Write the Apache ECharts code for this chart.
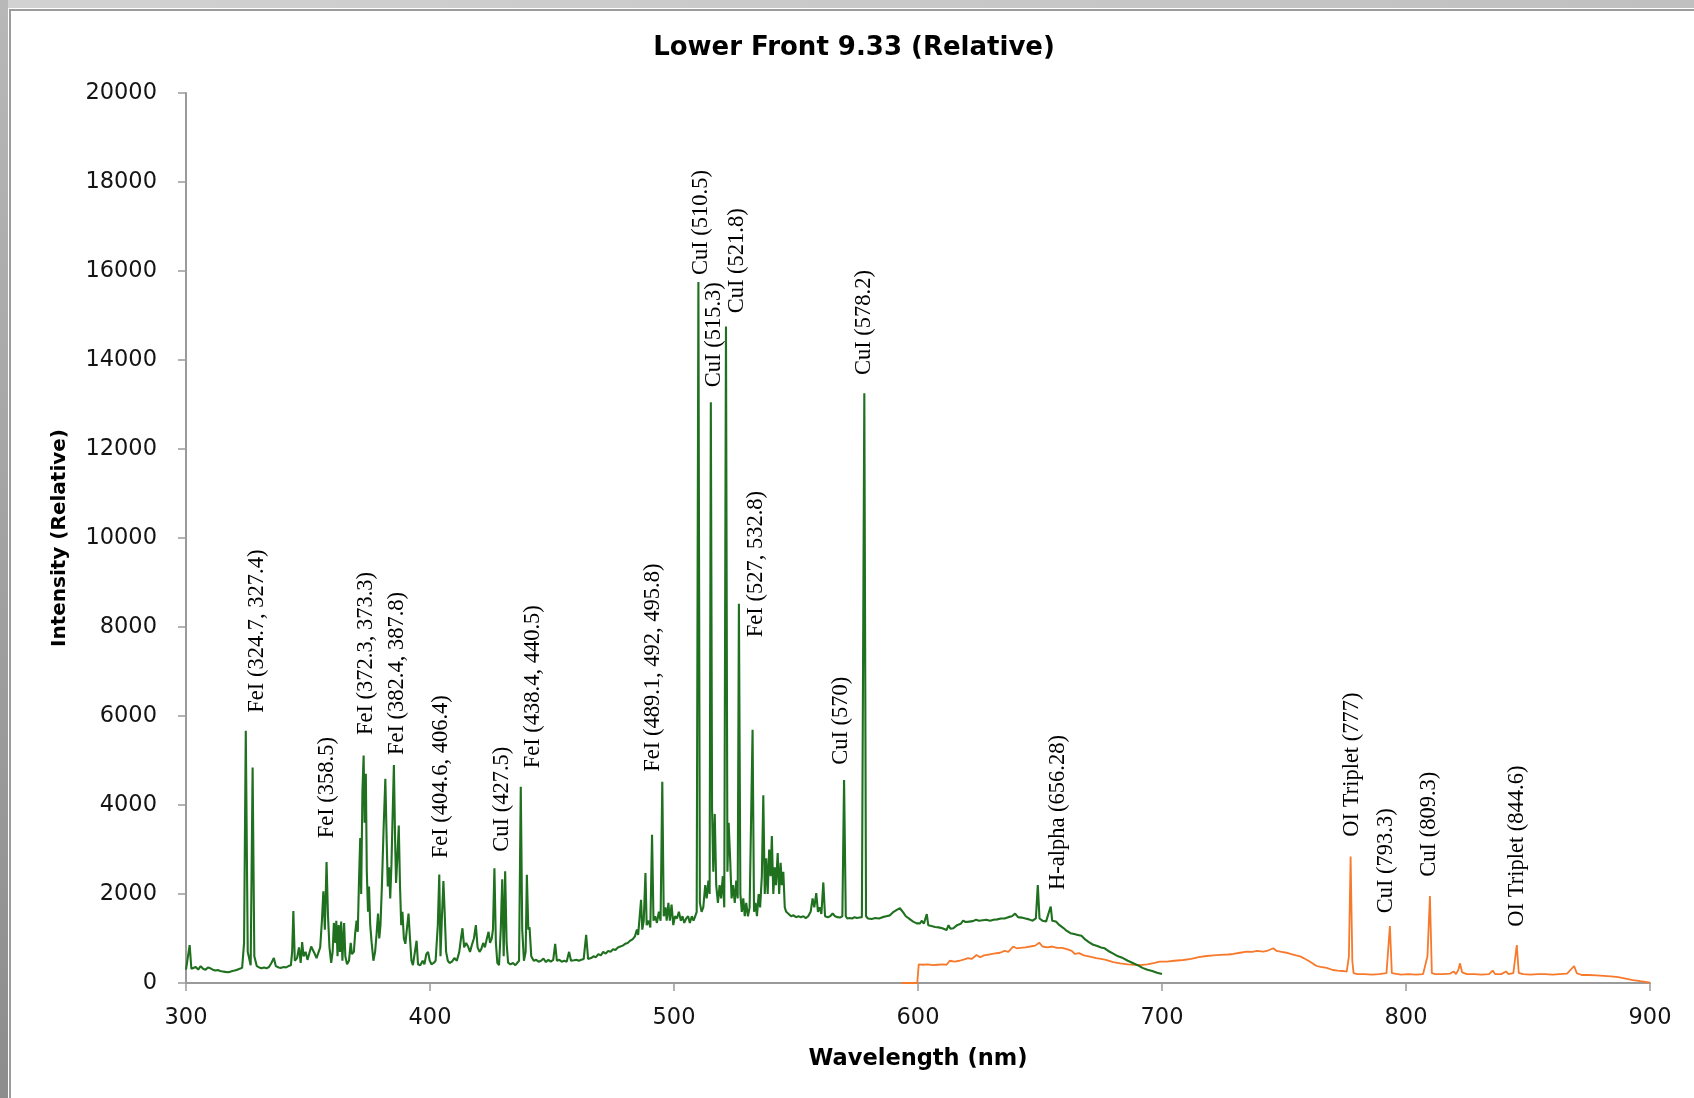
<!DOCTYPE html>
<html>
<head>
<meta charset="utf-8">
<script src="https://cdn.jsdelivr.net/npm/echarts@6/dist/echarts.min.js"></script>
<style>
html,body{margin:0;padding:0;background:#fff;}
#chart{width:1694px;height:1098px;}
</style>
</head>
<body>
<div id="chart"></div>
<script>
// ---------- DATA ----------
const xTicks = [300, 400, 500, 600, 700, 800, 900];
const yTicks = [0, 2000, 4000, 6000, 8000, 10000, 12000, 14000, 16000, 18000, 20000];

// Green spectrum (300 - 700 nm)
const greenWl = [
300,300.8,301.5,302.2,303,304,305,306,307,308,309,310,311,312,313,314,315,316,317,318,319,320,321,322,323,323.8,324.5,325.3,326.5,327.3,328,329,330,331,332,333,334,335,336,336.8,338,339,340,341,342,343,343.5,344,344.6,345.5,346.3,347,347.6,348.2,349,349.8,350.5,351.3,352,352.8,353.5,354.3,355,355.7,356.3,356.9,357.6,358.2,358.8,359.5,360.1,360.6,361.2,361.6,362.1,362.6,363.1,363.6,364.1,364.8,365.3,366,366.8,367.5,368,368.8,369.3,369.9,370.4,370.9,371.4,371.8,372.3,372.8,373.2,373.7,374.1,374.6,375,375.5,376.1,376.8,377.5,378.1,378.7,379.2,379.7,380.3,381,381.7,382.2,382.7,383.2,383.7,384.2,384.7,385.2,385.7,386.1,386.6,387.2,387.7,388.2,388.7,389.3,389.9,390.5,391.2,391.8,392.4,393,393.8,394.5,395.1,396,397,397.7,398.5,399.2,399.9,400.6,401.5,402.3,403.2,403.8,404.3,404.9,405.5,406,406.6,407.3,408,409,410,411,412,412.7,413.3,414,414.8,415.6,416.4,417.3,418,418.8,419.5,420.3,421,421.8,422.5,423.3,424,424.6,425.3,425.8,426.4,427,427.6,428.3,429,429.6,430.2,430.8,431.4,432,433,434,435,435.8,436.5,437.2,437.8,438.5,439.2,439.7,440.3,440.8,441.5,442.5,443.5,444.5,445.5,446.5,447.5,448.5,449.5,450.5,451.3,452,453,454,455,456,457,457.8,459,460,461,462,463,464,464.8,466,467,468,469,470,471,472,473,474,475,476,477,478,479,480,481,482,483,484,484.8,485.3,485.8,486.5,487,487.6,488.3,488.8,489.6,490.3,491,491.6,492.3,493,493.8,494.5,495.2,495.8,496.5,497,497.7,498.3,499,499.7,500.4,501.2,502,502.8,503.5,504.2,505,505.8,506.5,507.3,508,508.7,509.3,510,510.6,511.3,512,512.8,513.4,514.1,514.6,515.1,515.6,516.1,516.7,517.3,518,518.7,519.3,520,520.6,521.3,521.9,522.4,523,523.6,524.2,524.9,525.5,526.1,526.6,527.2,527.8,528.4,529,529.6,530.3,531,531.6,532.2,532.8,533.4,534,534.7,535.3,536,536.6,537.2,537.8,538.4,539,539.6,540.1,540.7,541.3,541.8,542.5,543.1,543.7,544.2,544.8,545.4,546,547,548,549,550,551,552,553,554,555,556,556.8,557.5,558.3,559,559.7,560.4,561.2,561.9,563,564,565,566,567,568,569,569.7,570.4,571,572,573,574,575,576,577,578,578.7,579.5,581,582.5,584,585.5,587,588.5,590,591.5,592.6,594,595,596.5,598,599.5,600.8,601.6,602.4,603.6,604.2,605.5,607,608.5,610,611.7,612.5,613.3,614.5,616,617.5,618.5,619.5,621,622.5,623.8,625,626.5,628,629.5,631,632.5,634,635.5,637,638.5,639.8,641,642.5,644,645.5,647,648.3,649.1,649.8,651,652.5,653.7,654.4,655,656.5,658,659.5,661,662.5,664,665.5,667,668.5,670,671.8,673.5,675,676.5,678,680,682,684,686,688,690,692,694,696,698,700
];
const greenI = [
300,330,850,320,290,360,300,380,320,300,350,330,300,280,290,270,260,250,240,250,270,280,300,320,340,900,5670,700,400,4840,600,380,350,330,350,330,360,450,560,380,350,340,360,350,380,400,700,1620,500,560,800,450,920,600,700,520,660,820,780,650,560,520,800,1400,2060,1200,2720,1500,800,450,700,1350,900,1400,600,1300,700,1380,500,1350,600,420,500,900,650,700,1100,1400,1150,2300,3260,2000,4300,5110,3600,4700,2500,1600,2170,1300,900,500,700,1100,1560,1000,1300,2200,3500,4590,3300,2170,2600,1900,2660,3800,4900,3200,2250,2800,3540,2200,1300,1600,1000,880,1200,1560,1000,500,400,420,950,420,400,500,420,650,700,500,420,450,500,1300,2440,600,1500,2290,1600,700,500,450,480,560,500,700,1000,1230,800,900,820,700,880,1000,1300,800,700,760,900,800,1000,1150,900,1000,1200,2580,900,450,400,1200,2330,600,2510,900,460,420,450,400,420,500,4410,1200,500,700,2430,1200,1250,600,500,520,480,500,550,470,520,480,520,880,500,520,480,500,480,700,500,510,520,500,520,540,1080,540,560,600,580,650,620,700,660,720,700,760,740,800,820,840,880,900,950,980,1050,1200,1080,1400,1870,1200,1400,2470,1300,1400,1250,3330,1400,1500,1350,1600,1400,4520,1500,1700,1400,1800,1400,1760,1300,1500,1450,1600,1400,1500,1350,1450,1500,1350,1500,1400,1500,1600,15750,1800,1600,1700,2200,1900,2300,2000,13050,3900,2500,3800,2200,1800,2200,1900,2400,1700,14750,2500,3600,2800,1900,2200,1800,2300,1900,8520,2000,1600,1900,1500,1800,1500,1700,1700,5690,1600,1800,1500,2000,1700,2400,4220,2000,2800,2000,3000,2400,3300,2000,2600,2200,2920,2000,2700,2200,2500,1700,1600,1550,1500,1520,1480,1500,1480,1500,1460,1500,1600,1900,1700,2020,1600,1700,1550,2260,1500,1480,1500,1560,1500,1480,1470,1500,4560,1500,1450,1460,1450,1480,1460,1470,1480,13250,1500,1450,1440,1460,1450,1480,1500,1520,1600,1650,1680,1580,1500,1440,1380,1340,1340,1400,1330,1550,1300,1280,1260,1250,1230,1190,1300,1220,1230,1300,1330,1400,1370,1380,1390,1420,1400,1410,1420,1400,1420,1430,1450,1450,1480,1500,1560,1480,1470,1450,1430,1400,1450,2200,1450,1400,1380,1600,1715,1400,1380,1300,1240,1170,1120,1100,1080,1060,980,920,860,830,800,780,720,660,600,560,500,450,400,340,300,270,230,200
];

// Orange spectrum (593 - 900 nm)
const orangeWl = [
593.3,599.7,600.3,602,604,606,608,610,611.7,613,613.8,615,617,619,620.5,622,624,625.5,627,629,631,633.6,635.5,637,639,640.5,642,644,646,648,649.7,651,653,655,657,659,661,663,664.3,666,668,670.5,673,675,677,680,682.8,686,689,691,694,697,699,702,705,708.7,712,715,718.3,721,724,727,729.2,732,734.7,737,739,741.5,743,745.6,747,749,751,753,755,756.6,758,760,762,763.4,765,767.5,770,772,774,775.7,776.6,777.3,778,778.5,780,783,786,789,792,793.4,794.2,795,798,801,804,807,808.8,809.8,810.6,812,815,818,819.5,820.5,821.5,822.1,823,825,828,831,834,835.5,836.5,839,841,842,844,845.4,846.2,848,851,854,857,860,863,866,868.9,870,872,875,878,881,884,887,890,893,896,900
];
const orangeI = [
0,0,420,410,420,400,410,420,410,500,520,480,500,530,560,540,630,580,620,640,660,680,720,700,816,780,790,800,820,840,906,820,800,820,790,790,760,720,652,670,620,590,560,540,520,470,442,420,410,404,420,450,480,480,500,517,540,580,607,620,630,640,652,680,704,700,720,704,720,780,720,700,680,650,620,600,560,500,430,382,360,340,292,280,270,254,600,2840,500,220,200,200,190,200,220,1280,220,200,190,200,190,200,600,1955,220,200,200,210,260,200,300,442,240,200,200,190,200,280,200,200,260,200,220,854,230,200,190,200,200,190,200,210,382,220,180,180,170,160,150,130,100,67,40,10
];

// Line annotations (text, wavelength and intensity of the text start)
const labelText = [
"FeI (324.7, 327.4)","FeI (358.5)","FeI (372.3, 373.3)","FeI (382.4, 387.8)","FeI (404.6, 406.4)",
"CuI (427.5)","FeI (438.4, 440.5)","FeI (489.1, 492, 495.8)","CuI (510.5)","CuI (515.3)","CuI (521.8)",
"FeI (527, 532.8)","CuI (570)","CuI (578.2)","H-alpha (656.28)","OI Triplet (777)","CuI (793.3)",
"CuI (809.3)","OI Triplet (844.6)"
];
const labelWl = [329.0,357.7,374.0,386.6,404.4,429.4,442.3,491.5,511.3,516.4,525.8,533.5,568.3,577.9,657.5,778.0,791.7,809.4,845.6];
const labelI  = [6074,3251,5573,5123,2802,2950,4824,4748,15909,13388,15048,7770,4903,13662,2090,3288,1566,2389,1266];

// ---------- CHART ----------
const pair = (xs, ys) => xs.map((x, i) => [x, ys[i]]);
const chart = echarts.init(document.getElementById('chart'), null, {renderer: 'canvas'});

const tickFont = 'DejaVu Sans';
const option = {
  animation: false,
  backgroundColor: '#ffffff',
  title: {
    text: 'Lower Front 9.33 (Relative)',
    left: 849, top: 30, textAlign: 'center',
    textStyle: {fontFamily: 'DejaVu Sans', fontWeight: 'bold', fontSize: 26, color: '#000'}
  },
  graphic: [
    {type: 'rect', shape: {x: 0, y: 0, width: 1694, height: 8}, style: {fill: new echarts.graphic.LinearGradient(0,0,1,0,[{offset:0,color:'#d2d2d2'},{offset:1,color:'#c0c0c0'}])}, silent: true},
    {type: 'rect', shape: {x: 0, y: 0, width: 8, height: 1098}, style: {fill: new echarts.graphic.LinearGradient(0,0,0,1,[{offset:0,color:'#b8b8b8'},{offset:1,color:'#8c8c8c'}])}, silent: true},
    {type: 'polyline', shape: {points: [[10, 1098], [10, 10], [1694, 10]]}, style: {stroke: '#9c9c9c', lineWidth: 2, fill: null}, silent: true}
  ],
  grid: {left: 186, right: 44, top: 93, bottom: 115, containLabel: false, outerBoundsMode: 'none'},
  xAxis: {
    type: 'value', min: 300, max: 900, interval: 100,
    name: 'Wavelength (nm)', nameLocation: 'middle', nameGap: 65,
    nameTextStyle: {fontFamily: 'DejaVu Sans', fontWeight: 'bold', fontSize: 22.5, color: '#000'},
    axisLine: {show: true, onZero: false, lineStyle: {color: '#9a9a9a', width: 2}},
    axisTick: {show: true, inside: false, length: 8, lineStyle: {color: '#9a9a9a', width: 1.5}},
    axisLabel: {margin: 24, fontFamily: tickFont, fontSize: 22.5, color: '#141414',
      formatter: v => xTicks.includes(v) ? String(v) : ''},
    splitLine: {show: false}
  },
  yAxis: {
    type: 'value', min: 0, max: 20000, interval: 2000,
    name: 'Intensity (Relative)', nameLocation: 'middle', nameGap: 116, nameRotate: 90,
    nameTextStyle: {fontFamily: 'DejaVu Sans', fontWeight: 'bold', fontSize: 20, color: '#000'},
    axisLine: {show: true, lineStyle: {color: '#9a9a9a', width: 2}},
    axisTick: {show: true, inside: false, length: 8, lineStyle: {color: '#9a9a9a', width: 1.5}},
    axisLabel: {margin: 29, fontFamily: tickFont, fontSize: 22.5, color: '#141414', padding: [5, 0, 0, 0],
      formatter: v => yTicks.includes(v) ? String(v) : ''},
    splitLine: {show: false}
  },
  series: [
    {
      type: 'line', name: 'green', data: pair(greenWl, greenI),
      showSymbol: false, symbol: 'none', smooth: false, clip: true,
      lineStyle: {color: '#1f701f', width: 2.1}, z: 3
    },
    {
      type: 'line', name: 'orange', data: pair(orangeWl, orangeI),
      showSymbol: false, symbol: 'none', smooth: false, clip: true,
      lineStyle: {color: '#f7792b', width: 1.8}, z: 2
    },
    {
      type: 'custom', name: 'labels', silent: true, clip: false, z: 5,
      data: pair(labelWl, labelI),
      renderItem: function (params, api) {
        const p = api.coord([api.value(0), api.value(1)]);
        return {
          type: 'text', x: p[0], y: p[1], rotation: Math.PI / 2,
          style: {text: labelText[params.dataIndex], font: '22.5px "Liberation Serif"', fill: '#000', align: 'left', verticalAlign: 'middle'}
        };
      }
    }
  ]
};
chart.setOption(option);
</script>
</body>
</html>
